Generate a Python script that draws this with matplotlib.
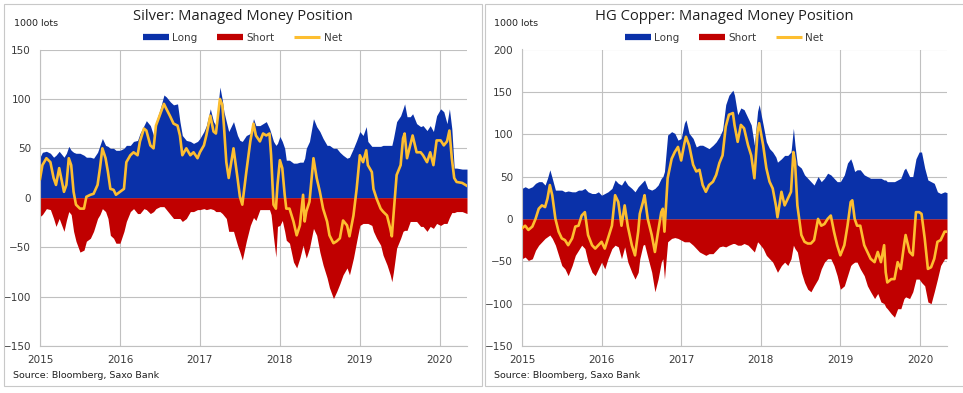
import numpy as np
import matplotlib.pyplot as plt
from matplotlib.patches import Rectangle
from matplotlib.lines import Line2D

# silver, managed money (1000 lots), time in decimal years
silver_t = [2015.00, 2015.03, 2015.08, 2015.13, 2015.17, 2015.20, 2015.24, 2015.30, 2015.33, 2015.36,
            2015.39, 2015.42, 2015.45, 2015.50, 2015.55, 2015.58, 2015.63, 2015.67, 2015.72, 2015.75,
            2015.78, 2015.82, 2015.85, 2015.88, 2015.92, 2015.95, 2016.00, 2016.05, 2016.08, 2016.13,
            2016.17, 2016.22, 2016.25, 2016.30, 2016.33, 2016.38, 2016.42, 2016.45, 2016.50, 2016.55,
            2016.58, 2016.63, 2016.67, 2016.72, 2016.75, 2016.78, 2016.83, 2016.88, 2016.92, 2016.97,
            2017.00, 2017.05, 2017.08, 2017.13, 2017.17, 2017.20, 2017.25, 2017.28, 2017.30, 2017.33,
            2017.36, 2017.42, 2017.47, 2017.50, 2017.53, 2017.58, 2017.63, 2017.67, 2017.70, 2017.75,
            2017.79, 2017.83, 2017.87, 2017.89, 2017.92, 2017.95, 2017.97, 2018.00, 2018.03, 2018.06,
            2018.08, 2018.12, 2018.17, 2018.21, 2018.25, 2018.29, 2018.31, 2018.33, 2018.37, 2018.42,
            2018.46, 2018.50, 2018.54, 2018.59, 2018.62, 2018.67, 2018.71, 2018.75, 2018.79, 2018.84,
            2018.87, 2018.92, 2018.96, 2019.00, 2019.04, 2019.08, 2019.10, 2019.15, 2019.17, 2019.21,
            2019.26, 2019.29, 2019.34, 2019.38, 2019.40, 2019.42, 2019.46, 2019.51, 2019.54, 2019.56,
            2019.59, 2019.63, 2019.66, 2019.71, 2019.76, 2019.79, 2019.84, 2019.88, 2019.92, 2019.96,
            2020.01, 2020.05, 2020.09, 2020.12, 2020.15, 2020.18, 2020.21, 2020.28, 2020.34]
silver_long = [41, 46, 47, 45, 41, 43, 47, 41, 45, 52,
               48, 46, 45, 45, 43, 41, 41, 40, 46, 53,
               60, 53, 52, 50, 50, 48, 48, 50, 53, 53,
               57, 58, 65, 73, 78, 73, 63, 77, 89, 104,
               102, 97, 94, 95, 77, 63, 58, 57, 55, 57,
               60, 67, 73, 90, 77, 73, 112, 99, 87, 77,
               67, 77, 63, 58, 57, 63, 65, 80, 73, 73,
               75, 77, 70, 65, 57, 53, 55, 62, 57, 50,
               38, 38, 35, 35, 36, 36, 40, 50, 57, 80,
               72, 67, 60, 53, 53, 50, 50, 46, 43, 40,
               41, 50, 58, 67, 63, 72, 57, 52, 52, 52,
               52, 53, 53, 53, 53, 60, 77, 83, 90, 95,
               82, 82, 85, 75, 72, 73, 68, 73, 67, 83,
               90, 87, 75, 90, 70, 30, 30, 29, 29]
silver_short = [-19, -17, -11, -12, -21, -29, -21, -34, -23, -14,
                -17, -34, -44, -55, -53, -44, -41, -34, -21, -17,
                -11, -14, -21, -38, -41, -46, -46, -34, -24, -14,
                -11, -16, -16, -11, -12, -16, -14, -11, -9, -9,
                -12, -17, -21, -21, -21, -24, -21, -14, -14, -12,
                -12, -11, -12, -11, -12, -14, -14, -16, -18, -21,
                -34, -34, -48, -55, -63, -44, -28, -20, -23, -12,
                -12, -12, -12, -17, -40, -60, -29, -28, -23, -34,
                -43, -46, -65, -71, -61, -48, -55, -61, -51, -31,
                -38, -55, -68, -81, -91, -102, -95, -87, -78, -71,
                -78, -61, -44, -28, -26, -26, -26, -28, -34, -41,
                -48, -58, -68, -78, -85, -75, -51, -41, -34, -33,
                -33, -24, -24, -24, -29, -29, -34, -29, -31, -26,
                -28, -26, -26, -20, -15, -15, -14, -14, -16]
silver_net = [19, 33, 40, 36, 20, 13, 30, 6, 13, 40,
              33, 6, -7, -11, -11, 1, 3, 4, 13, 30,
              50, 40, 26, 9, 8, 3, 6, 9, 36, 43,
              46, 43, 57, 70, 68, 53, 50, 73, 84, 95,
              90, 82, 75, 73, 63, 43, 50, 43, 46, 40,
              46, 53, 63, 83, 67, 65, 100, 94, 73, 36,
              20, 50, 20, 1, -7, 26, 57, 75, 63, 57,
              65, 63, 65, 43, -7, -11, 13, 38, 30, 3,
              -11, -11, -24, -38, -28, 3, -24, -14, -4, 40,
              20, 6, -11, -24, -38, -46, -44, -41, -23, -28,
              -39, -18, 9, 43, 36, 48, 33, 26, 9, -1,
              -11, -14, -18, -31, -39, -18, 23, 33, 60, 65,
              40, 53, 63, 46, 46, 43, 36, 46, 33, 58,
              58, 53, 57, 68, 40, 20, 16, 15, 12]

# HG copper, managed money (1000 lots)
copper_t = [2015.00, 2015.04, 2015.08, 2015.13, 2015.17, 2015.21, 2015.25, 2015.29, 2015.32, 2015.35,
            2015.38, 2015.42, 2015.46, 2015.50, 2015.54, 2015.58, 2015.63, 2015.67, 2015.71, 2015.75,
            2015.79, 2015.83, 2015.88, 2015.92, 2015.96, 2016.00, 2016.04, 2016.08, 2016.13, 2016.17,
            2016.21, 2016.25, 2016.29, 2016.33, 2016.38, 2016.42, 2016.46, 2016.48, 2016.52, 2016.54,
            2016.58, 2016.63, 2016.67, 2016.71, 2016.75, 2016.77, 2016.79, 2016.83, 2016.88, 2016.92,
            2016.96, 2017.00, 2017.04, 2017.06, 2017.10, 2017.15, 2017.19, 2017.23, 2017.27, 2017.31,
            2017.35, 2017.40, 2017.44, 2017.48, 2017.52, 2017.56, 2017.60, 2017.65, 2017.67, 2017.71,
            2017.75, 2017.79, 2017.84, 2017.88, 2017.92, 2017.96, 2017.98, 2018.03, 2018.07, 2018.11,
            2018.15, 2018.19, 2018.21, 2018.26, 2018.30, 2018.34, 2018.38, 2018.41, 2018.43, 2018.46,
            2018.51, 2018.55, 2018.59, 2018.63, 2018.67, 2018.72, 2018.76, 2018.80, 2018.84, 2018.88,
            2018.92, 2018.96, 2019.00, 2019.05, 2019.09, 2019.13, 2019.15, 2019.18, 2019.21, 2019.25,
            2019.30, 2019.34, 2019.38, 2019.43, 2019.47, 2019.51, 2019.55, 2019.57, 2019.59, 2019.64,
            2019.68, 2019.72, 2019.76, 2019.80, 2019.82, 2019.87, 2019.91, 2019.95, 2019.99, 2020.02,
            2020.06, 2020.10, 2020.14, 2020.18, 2020.22, 2020.26, 2020.31, 2020.34]
copper_long = [36, 38, 36, 38, 42, 44, 44, 40, 48, 58,
               48, 34, 34, 34, 32, 33, 32, 32, 34, 34,
               36, 32, 30, 30, 32, 28, 30, 32, 36, 46,
               42, 40, 46, 40, 36, 32, 38, 40, 44, 46,
               36, 34, 36, 40, 48, 50, 56, 99, 103, 101,
               93, 95, 113, 117, 101, 95, 85, 87, 87, 85,
               83, 87, 91, 97, 105, 135, 146, 152, 146, 123,
               131, 129, 119, 111, 87, 127, 135, 111, 91, 83,
               79, 73, 67, 71, 75, 75, 79, 107, 87, 64,
               60, 52, 48, 44, 40, 50, 44, 48, 54, 52,
               48, 44, 44, 52, 66, 71, 66, 56, 58, 58,
               52, 50, 48, 48, 48, 48, 46, 46, 44, 44,
               44, 46, 48, 58, 60, 50, 50, 71, 79, 79,
               60, 46, 44, 42, 32, 30, 32, 31]
copper_short = [-47, -45, -49, -47, -37, -31, -27, -23, -21, -19,
                -23, -31, -43, -55, -59, -67, -55, -43, -37, -31,
                -35, -51, -63, -67, -59, -51, -59, -47, -35, -31,
                -33, -47, -33, -51, -63, -71, -63, -47, -31, -30,
                -45, -63, -86, -71, -51, -47, -71, -27, -23, -22,
                -23, -25, -27, -27, -27, -31, -35, -39, -41, -43,
                -41, -41, -37, -33, -32, -33, -31, -29, -29, -31,
                -31, -29, -31, -35, -39, -27, -29, -35, -43, -47,
                -51, -59, -63, -55, -51, -55, -47, -31, -35, -39,
                -63, -75, -83, -86, -79, -71, -59, -51, -47, -47,
                -55, -67, -83, -79, -67, -55, -53, -51, -51, -59,
                -67, -79, -86, -94, -88, -98, -100, -104, -106, -112,
                -116, -106, -106, -94, -92, -94, -86, -71, -71, -75,
                -79, -98, -100, -86, -71, -55, -47, -47]
copper_net = [-11, -8, -13, -9, 0, 12, 16, 14, 24, 40,
              28, 0, -15, -23, -25, -31, -23, -9, -8, 4,
              8, -19, -31, -35, -31, -27, -35, -23, -8, 28,
              20, -8, 16, -9, -31, -43, -15, 6, 20, 28,
              0, -19, -39, -15, 8, 12, -15, 48, 71, 79,
              85, 69, 89, 97, 87, 64, 56, 58, 40, 32,
              40, 44, 52, 66, 75, 109, 123, 125, 111, 91,
              111, 107, 87, 75, 48, 103, 113, 87, 60, 44,
              36, 16, 2, 32, 16, 24, 32, 79, 68, 16,
              -19, -27, -29, -29, -25, 0, -8, -6, 0, 4,
              -15, -31, -43, -31, -8, 20, 22, 0, -8, -8,
              -31, -39, -47, -51, -39, -51, -31, -63, -75, -71,
              -71, -51, -59, -31, -19, -39, -43, 8, 8, 6,
              -23, -59, -57, -47, -27, -25, -15, -15]

years = [2015, 2016, 2017, 2018, 2019, 2020]
blue = '#0a31a9'
red = '#c00000'
gold = '#fdbe30'
grid_c = '#c0c0c0'
txt_c = '#3a3a3a'

fig = plt.figure(figsize=(9.63, 3.93), dpi=100)
W, H = 963.0, 393.0


def panel(x0, x1, t, long_, short_, net, ymin, ymax, title, box):
    ax = fig.add_axes([x0 / W, 1 - 346 / H, (x1 - x0) / W, (346 - 49.5) / H])
    t = np.array(t)
    ax.fill_between(t, 0, long_, color=blue, lw=0, zorder=2)
    ax.fill_between(t, short_, 0, color=red, lw=0, zorder=2)
    ax.plot(t, net, color=gold, lw=1.9, zorder=3)
    ax.set_xlim(2015, 2020.34)
    ax.set_ylim(ymin, ymax)
    ax.set_xticks(years)
    ax.set_xticklabels([str(y) for y in years])
    ax.set_yticks(np.arange(ymin, ymax + 1, 50))
    ax.grid(True, color=grid_c, lw=0.8, zorder=0)
    ax.set_axisbelow(True)
    for s in ['top', 'right']:
        ax.spines[s].set_visible(False)
    for s in ['left', 'bottom']:
        ax.spines[s].set_color(grid_c)
        ax.spines[s].set_linewidth(0.8)
    ax.tick_params(length=0, labelsize=7.5, labelcolor=txt_c, pad=6.5)
    # panel frame and texts
    bx0, bx1 = box
    fig.patches.append(Rectangle((bx0 / W, 1 - 386 / H), (bx1 - bx0) / W, 382.5 / H,
                                 transform=fig.transFigure, fill=False,
                                 edgecolor='#c8c8c8', lw=0.8))
    cx = (bx0 + bx1) / 2 / W
    fig.text(cx, 1 - 16 / H, title, ha='center', va='center', fontsize=10.6,
             family='Open Sans', color='#202020')
    fig.text((bx0 + 10) / W, 1 - 24 / H, '1000 lots', ha='left', va='center',
             fontsize=6.8, color='#202020')
    fig.text((bx0 + 9.5) / W, 1 - 376 / H, 'Source: Bloomberg, Saxo Bank', ha='left',
             va='center', fontsize=6.8, color='#202020')
    handles = [Line2D([], [], color=blue, lw=4.5, solid_capstyle='butt'),
               Line2D([], [], color=red, lw=4.5, solid_capstyle='butt'),
               Line2D([], [], color=gold, lw=2.2, solid_capstyle='butt')]
    fig.legend(handles, ['Long', 'Short', 'Net'], loc='center', ncol=3,
               bbox_to_anchor=(cx, 1 - 38 / H), frameon=False, fontsize=7.5,
               handlelength=2.5, handletextpad=0.3, columnspacing=1.9,
               labelcolor=txt_c)
    return ax


panel(40, 467, silver_t, silver_long, silver_short, silver_net, -150, 150,
      'Silver: Managed Money Position', (3.5, 481.5))
panel(522, 947, copper_t, copper_long, copper_short, copper_net, -150, 200,
      'HG Copper: Managed Money Position', (484.5, 964))

fig.savefig('out.png', dpi=100)
